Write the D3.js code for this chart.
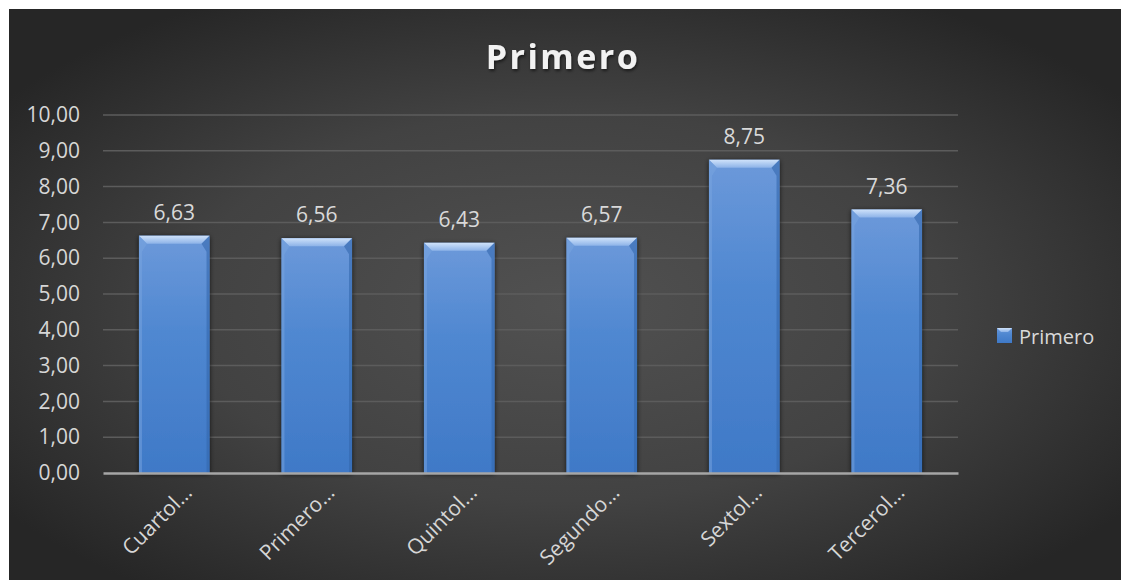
<!DOCTYPE html>
<html>
<head>
<meta charset="utf-8">
<script src="https://cdn.jsdelivr.net/npm/d3@7"></script>
<style>
  body { margin: 0; background: #fff; }
  text { font-family: "Open Sans", "Noto Sans", sans-serif; }
</style>
</head>
<body>
<div id="chart"></div>
<script>
// data
var categories = ["Cuartol…", "Primero…", "Quintol…", "Segundo…", "Sextol…", "Tercerol…"];
var values = [6.63, 6.56, 6.43, 6.57, 8.75, 7.36];
var yTicks = [0, 1, 2, 3, 4, 5, 6, 7, 8, 9, 10];
var seriesName = "Primero";

var W = 1126, H = 582;
var margin = {top: 115, right: 168, bottom: 109, left: 103},
    width = W - margin.left - margin.right,
    height = H - margin.top - margin.bottom;

var svg = d3.select("#chart")
  .append("svg")
    .attr("width", W)
    .attr("height", H);

var defs = svg.append("defs");

var bg = defs.append("radialGradient")
    .attr("id", "bg")
    .attr("cx", "50%").attr("cy", "52%")
    .attr("r", "62%");
bg.append("stop").attr("offset", "0%").attr("stop-color", "#515151");
bg.append("stop").attr("offset", "55%").attr("stop-color", "#424242");
bg.append("stop").attr("offset", "100%").attr("stop-color", "#262626");

var barGrad = defs.append("linearGradient")
    .attr("id", "barGrad")
    .attr("x1", 0).attr("y1", 0).attr("x2", 0).attr("y2", 1);
barGrad.append("stop").attr("offset", "0%").attr("stop-color", "#6c99da");
barGrad.append("stop").attr("offset", "40%").attr("stop-color", "#5088d1");
barGrad.append("stop").attr("offset", "100%").attr("stop-color", "#3f79c7");

var bevelGrad = defs.append("linearGradient")
    .attr("id", "bevelGrad")
    .attr("x1", 0).attr("y1", 0).attr("x2", 0).attr("y2", 1);
bevelGrad.append("stop").attr("offset", "0%").attr("stop-color", "#cfe2fa");
bevelGrad.append("stop").attr("offset", "100%").attr("stop-color", "#8db3e8");

var shadow = defs.append("filter")
    .attr("id", "shadow")
    .attr("x", "-20%").attr("y", "-20%").attr("width", "140%").attr("height", "140%");
shadow.append("feDropShadow")
    .attr("dx", 0).attr("dy", 1)
    .attr("stdDeviation", 2.5)
    .attr("flood-color", "#000")
    .attr("flood-opacity", 0.75);

var titleShadow = defs.append("filter").attr("id", "titleShadow");
titleShadow.append("feDropShadow")
    .attr("dx", 1).attr("dy", 2)
    .attr("stdDeviation", 1.5)
    .attr("flood-color", "#000")
    .attr("flood-opacity", 0.55);

// chart background
svg.append("rect")
    .attr("x", 9).attr("y", 9)
    .attr("width", 1112).attr("height", 571)
    .attr("fill", "url(#bg)");

var g = svg.append("g")
    .attr("transform", "translate(" + margin.left + "," + margin.top + ")");

var x = d3.scaleBand()
    .domain(categories)
    .range([0, width])
    .paddingInner(0.505)
    .paddingOuter(0.2525);

var y = d3.scaleLinear()
    .domain([0, 10])
    .range([height, 0]);

var fmt = function(v) { return d3.format(".2f")(v).replace(".", ","); };

// grid lines
g.append("g")
  .selectAll("line")
  .data(yTicks.slice(1))
  .join("line")
    .attr("x1", 0).attr("x2", width)
    .attr("y1", function(d) { return y(d); })
    .attr("y2", function(d) { return y(d); })
    .attr("stroke", "#5c5c5c")
    .attr("stroke-width", 1.5);

// y axis
var yAxis = g.append("g")
    .call(d3.axisLeft(y).tickValues(yTicks).tickFormat(fmt).tickSize(0).tickPadding(23));
yAxis.select(".domain").remove();
yAxis.selectAll("text")
    .attr("fill", "#d6d6d6")
    .attr("font-size", "21px")
    .style("font-family", "'Open Sans', sans-serif");

// bars
var bars = g.append("g")
  .selectAll("g")
  .data(values)
  .join("g");

bars.append("rect")
    .attr("x", function(d, i) { return x(categories[i]); })
    .attr("y", function(d) { return y(d); })
    .attr("width", x.bandwidth())
    .attr("height", function(d) { return height - y(d); })
    .attr("fill", "url(#barGrad)")
    .attr("filter", "url(#shadow)");

var bev = 8;
// top bevel
bars.append("path")
    .attr("d", function(d, i) {
      var x0 = x(categories[i]), x1 = x0 + x.bandwidth(), y0 = y(d);
      return "M" + x0 + "," + y0 + "L" + x1 + "," + y0 +
             "L" + (x1 - bev) + "," + (y0 + bev) + "L" + (x0 + bev) + "," + (y0 + bev) + "Z";
    })
    .attr("fill", "url(#bevelGrad)");
// left bevel
bars.append("path")
    .attr("d", function(d, i) {
      var x0 = x(categories[i]), y0 = y(d);
      return "M" + x0 + "," + y0 + "L" + (x0 + bev) + "," + (y0 + bev) +
             "L" + (x0 + 3) + "," + (y0 + bev + 8) + "L" + (x0 + 3) + "," + height + "L" + x0 + "," + height + "Z";
    })
    .attr("fill", "#7aa5e0")
    .attr("opacity", 0.5);
// right bevel
bars.append("path")
    .attr("d", function(d, i) {
      var x1 = x(categories[i]) + x.bandwidth(), y0 = y(d);
      return "M" + x1 + "," + y0 + "L" + (x1 - bev) + "," + (y0 + bev) +
             "L" + (x1 - 3) + "," + (y0 + bev + 8) + "L" + (x1 - 3) + "," + height + "L" + x1 + "," + height + "Z";
    })
    .attr("fill", "#3468ad")
    .attr("opacity", 0.6);

// value labels
bars.append("text")
    .attr("x", function(d, i) { return x(categories[i]) + x.bandwidth() / 2; })
    .attr("y", function(d) { return y(d) - 16; })
    .attr("text-anchor", "middle")
    .attr("fill", "#d9d9d9")
    .attr("font-size", "21px")
    .text(function(d) { return fmt(d); });

// x axis
var xAxis = g.append("g")
    .attr("transform", "translate(0," + height + ")")
    .call(d3.axisBottom(x).tickSize(0).tickPadding(0));
xAxis.select(".domain")
    .attr("stroke", "#a6a6a6")
    .attr("stroke-width", 2.5);
xAxis.selectAll("text")
    .attr("fill", "#d6d6d6")
    .attr("font-size", "21px")
    .style("font-family", "'Open Sans', sans-serif")
    .attr("text-anchor", "end")
    .attr("dy", null)
    .attr("transform", "translate(19,21) rotate(-45)");

// title
svg.append("text")
    .attr("x", 563)
    .attr("y", 69)
    .attr("text-anchor", "middle")
    .attr("fill", "#f2f2f2")
    .attr("font-size", "34px")
    .attr("font-weight", "bold")
    .attr("letter-spacing", "2.5px")
    .attr("filter", "url(#titleShadow)")
    .text(seriesName);

// legend
var legend = svg.append("g").attr("transform", "translate(997,328)");
legend.append("rect")
    .attr("width", 15).attr("height", 15)
    .attr("fill", "url(#barGrad)");
legend.append("path")
    .attr("d", "M0,0L15,0L11,4L4,4Z")
    .attr("fill", "url(#bevelGrad)");
legend.append("text")
    .attr("x", 22)
    .attr("y", 16)
    .attr("fill", "#d9d9d9")
    .attr("font-size", "20px")
    .text(seriesName);
</script>
</body>
</html>
